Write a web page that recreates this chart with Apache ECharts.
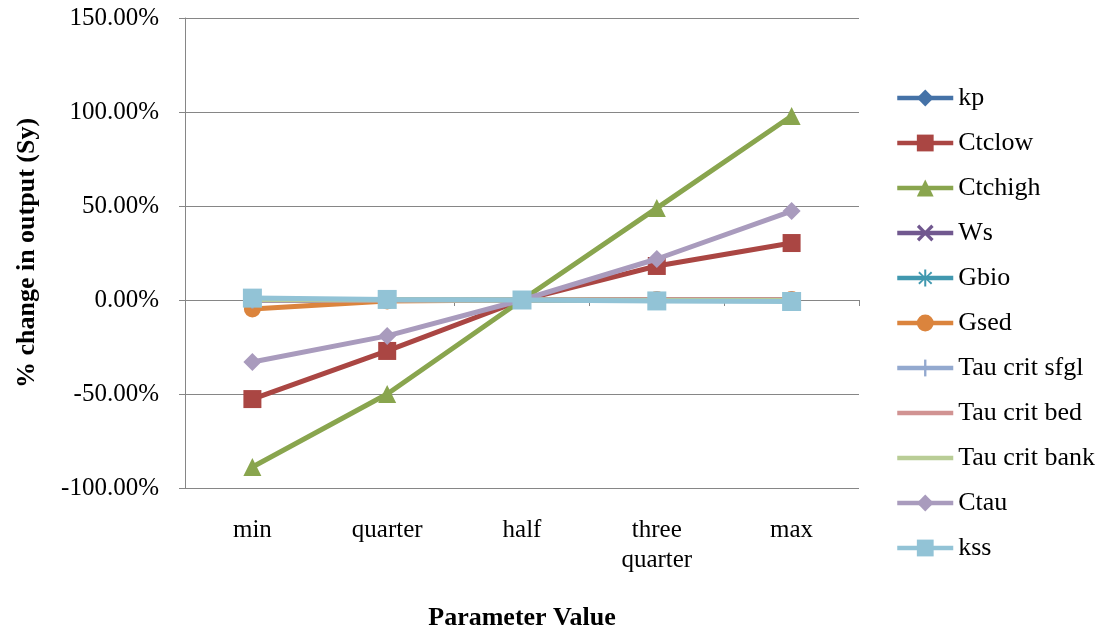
<!DOCTYPE html>
<html><head><meta charset="utf-8">
<script src="https://cdn.jsdelivr.net/npm/echarts@6/dist/echarts.min.js"></script>
<style>html,body{margin:0;padding:0;background:#fff}#c{width:1105px;height:632px}</style>
</head><body><div id="c"></div>
<script>
const categories = ['min', 'quarter', 'half', 'three\nquarter', 'max'];
const seriesNames = ['kp','Ctclow','Ctchigh','Ws','Gbio','Gsed','Tau crit sfgl','Tau crit bed','Tau crit bank','Ctau','kss'];
const kp = [0, 0, 0, 0, 0];
const Ctclow = [-52.7, -27.1, 0, 18.1, 30.3];
const Ctchigh = [-88.8, -50.0, 0, 48.9, 97.9];
const Ws = [0, 0, 0, 0, 0];
const Gbio = [0, 0, 0, 0, 0];
const Gsed = [-4.8, -0.5, 0, 0.2, 0.2];
const TauCritSfgl = [0, 0, 0, 0, 0];
const TauCritBed = [0, 0, 0, 0, 0];
const TauCritBank = [0.3, 0.1, 0, -0.2, -0.3];
const Ctau = [-33.0, -19.1, 0, 21.8, 47.3];
const kss = [1.0, 0.3, 0, -0.5, -0.8];
const yTicks = {min: -100, max: 150, interval: 50};

const values = [kp, Ctclow, Ctchigh, Ws, Gbio, Gsed, TauCritSfgl, TauCritBed, TauCritBank, Ctau, kss];
const colors = ['#4572A7','#AA4643','#89A54E','#71588F','#4198AF','#DB843D','#93A9CF','#D19392','#B9CD96','#A99BBD','#92C3D6'];
const xPath = 'path://M0,1.4L1.4,0L5,3.6L8.6,0L10,1.4L6.4,5L10,8.6L8.6,10L5,6.4L1.4,10L0,8.6L3.6,5Z';
const starPath = 'path://M4.4,0H5.6V4L8.4,1.2L9.2,2L6.4,4.4H10V5.6H6.4L9.2,8L8.4,8.8L5.6,6V10H4.4V6L1.6,8.8L0.8,8L3.6,5.6H0V4.4H3.6L0.8,2L1.6,1.2L4.4,4Z';
const vbar = 'path://M0,5L0,5M10,5L10,5M4.3,0H5.7V10H4.3Z';
const nothing = 'path://M0,0L0,0M10,10L10,10';
const symbols = ['diamond','rect','triangle',xPath,starPath,'circle',vbar,nothing,nothing,'diamond','rect'];
const sizes = [18,18,18,15,15,17,17,10,10,18,19];
const fam = 'Liberation Serif';

const series = seriesNames.map((n,i)=>({
  name: n, type: 'line', data: values[i],
  symbol: symbols[i], symbolSize: sizes[i], showSymbol: symbols[i] !== nothing,
  lineStyle: {width: 5, color: colors[i]},
  itemStyle: {color: colors[i]},
  z: 2 + i, animation: false
}));

const chart = echarts.init(document.getElementById('c'));
chart.setOption({
  animation: false,
  color: colors,
  textStyle: {fontFamily: fam},
  grid: {left: 185, right: 246, top: 18, bottom: 144, outerBoundsMode: 'none', containLabel: false},
  legend: {
    orient: 'vertical', left: 895, top: 85, itemGap: 19, padding: 0,
    itemWidth: 56, itemHeight: 21,
    lineStyle: {width: 4.5},
    textStyle: {fontFamily: fam, fontSize: 26, color: '#000'},
    data: seriesNames
  },
  xAxis: {
    type: 'category', data: categories, boundaryGap: true,
    axisLine: {lineStyle: {color: '#868686', width: 1}},
    axisTick: {show: true, length: 6, lineStyle: {color: '#868686'}},
    axisLabel: {fontFamily: fam, fontSize: 25, color: '#000', margin: 27, lineHeight: 30},
    name: 'Parameter Value', nameLocation: 'middle', nameGap: 117,
    nameTextStyle: {fontFamily: fam, fontSize: 26, fontWeight: 'bold', color: '#000'}
  },
  yAxis: {
    type: 'value', min: yTicks.min, max: yTicks.max, interval: yTicks.interval,
    axisLine: {show: true, lineStyle: {color: '#868686', width: 1}},
    axisTick: {show: true, length: 6, lineStyle: {color: '#868686'}},
    splitLine: {show: true, lineStyle: {color: '#868686', width: 1}},
    axisLabel: {fontFamily: fam, fontSize: 25, color: '#000', margin: 26,
      formatter: v => v.toFixed(2) + '%'},
    name: '% change in output (Sy)', nameLocation: 'middle', nameGap: 145,
    nameTextStyle: {fontFamily: fam, fontSize: 26, fontWeight: 'bold', color: '#000'}
  },
  series: series
});
</script></body></html>
